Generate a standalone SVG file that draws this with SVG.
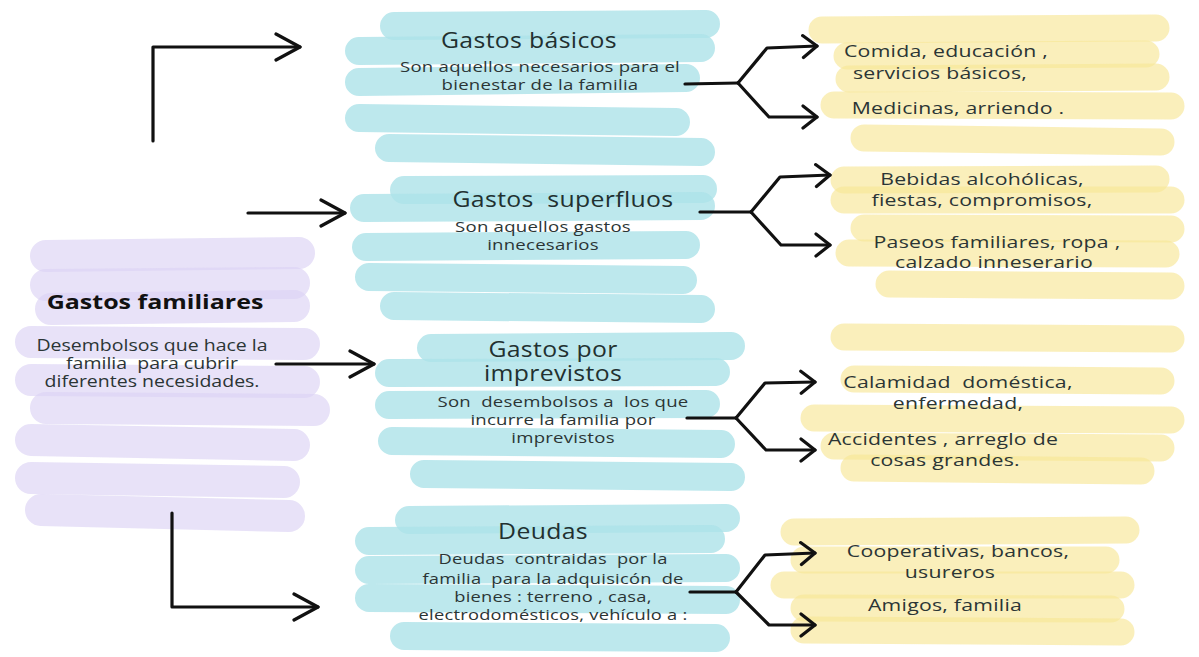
<svg xmlns="http://www.w3.org/2000/svg" width="1199" height="657" viewBox="0 0 1199 657">
<style>
.bg{fill:#ffffff}
.cy{stroke:#ade2e9;stroke-width:28;stroke-linecap:round;fill:none;opacity:0.8}
.pu{stroke:#dcd3f4;stroke-width:32;stroke-linecap:round;fill:none;opacity:0.65}
.ye{stroke:#f8e796;stroke-width:27;stroke-linecap:round;fill:none;opacity:0.65}
text{font-family:"Open Sans","DejaVu Sans",sans-serif;fill:#2b3535;text-anchor:middle;white-space:pre}
.t{font-size:21px;letter-spacing:0.3px;fill:#223030}
.tb{font-size:20px;font-weight:bold;fill:#111}
.d{font-size:15px;letter-spacing:0.2px}
.dp{font-size:16px}
.y{font-size:17px;letter-spacing:0.2px}
.c{stroke:#111;stroke-width:3.2;fill:none;stroke-linecap:round;stroke-linejoin:round}
</style>
<defs>
<marker id="big" viewBox="0 0 28 30" refX="26" refY="15" markerWidth="28" markerHeight="30" markerUnits="userSpaceOnUse" orient="auto">
<path d="M2,2 L26,15 L2,28" fill="none" stroke="#111" stroke-width="3.2" stroke-linecap="round" stroke-linejoin="round"/>
</marker>
<marker id="sm" viewBox="0 0 18 26" refX="16" refY="13" markerWidth="18" markerHeight="26" markerUnits="userSpaceOnUse" orient="auto">
<path d="M2,2 L16,13 L2,24" fill="none" stroke="#111" stroke-width="3.2" stroke-linecap="round" stroke-linejoin="round"/>
</marker>
</defs>
<rect class="bg" x="0" y="0" width="1199" height="657"/>

<g id="node-familiares">
<line class="pu" x1="46" y1="256" x2="299" y2="253"/>
<line class="pu" x1="46" y1="285" x2="294" y2="283"/>
<line class="pu" x1="51" y1="309" x2="294" y2="306"/>
<line class="pu" x1="31" y1="342" x2="304" y2="344"/>
<line class="pu" x1="31" y1="380" x2="304" y2="382"/>
<line class="pu" x1="46" y1="408" x2="314" y2="410"/>
<line class="pu" x1="31" y1="440" x2="294" y2="445"/>
<line class="pu" x1="31" y1="478" x2="284" y2="482"/>
<line class="pu" x1="41" y1="510" x2="289" y2="516"/>
<text class="tb" transform="translate(155,309) scale(1.25,1)">Gastos familiares</text>
<text class="dp" transform="translate(152,0) scale(1.22,1)"><tspan x="0" y="351">Desembolsos que hace la</tspan><tspan x="0" y="369">familia  para cubrir</tspan><tspan x="0" y="387">diferentes necesidades.</tspan></text>
</g>

<g id="node-basicos">
<line class="cy" x1="394" y1="26" x2="706" y2="24"/>
<line class="cy" x1="359" y1="51" x2="701" y2="48"/>
<line class="cy" x1="359" y1="82" x2="686" y2="78"/>
<line class="cy" x1="359" y1="118" x2="676" y2="122"/>
<line class="cy" x1="389" y1="148" x2="701" y2="152"/>
<text class="t" transform="translate(529,48) scale(1.18,1)">Gastos básicos</text>
<text class="d" transform="translate(540,0) scale(1.24,1)"><tspan x="0" y="72">Son aquellos necesarios para el</tspan><tspan x="0" y="90">bienestar de la familia</tspan></text>
</g>

<g id="node-superfluos">
<line class="cy" x1="404" y1="190" x2="703" y2="189"/>
<line class="cy" x1="364" y1="208" x2="701" y2="206"/>
<line class="cy" x1="366" y1="247" x2="686" y2="245"/>
<line class="cy" x1="369" y1="277" x2="683" y2="280"/>
<line class="cy" x1="394" y1="306" x2="701" y2="309"/>
<text class="t" transform="translate(563,207) scale(1.18,1)">Gastos  superfluos</text>
<text class="d" transform="translate(543,0) scale(1.24,1)"><tspan x="0" y="232">Son aquellos gastos</tspan><tspan x="0" y="250">innecesarios</tspan></text>
</g>

<g id="node-imprevistos">
<line class="cy" x1="431" y1="348" x2="731" y2="346"/>
<line class="cy" x1="389" y1="373" x2="716" y2="372"/>
<line class="cy" x1="389" y1="405" x2="706" y2="404"/>
<line class="cy" x1="392" y1="441" x2="721" y2="444"/>
<line class="cy" x1="424" y1="474" x2="731" y2="477"/>
<text class="t" transform="translate(553,0) scale(1.18,1)"><tspan x="0" y="357">Gastos por</tspan><tspan x="0" y="381">imprevistos</tspan></text>
<text class="d" transform="translate(563,0) scale(1.24,1)"><tspan x="0" y="407">Son  desembolsos a  los que</tspan><tspan x="0" y="425">incurre la familia por</tspan><tspan x="0" y="443">imprevistos</tspan></text>
</g>

<g id="node-deudas">
<line class="cy" x1="409" y1="520" x2="726" y2="518"/>
<line class="cy" x1="369" y1="541" x2="711" y2="539"/>
<line class="cy" x1="369" y1="570" x2="726" y2="568"/>
<line class="cy" x1="369" y1="598" x2="726" y2="600"/>
<line class="cy" x1="404" y1="636" x2="716" y2="638"/>
<text class="t" transform="translate(543,539) scale(1.18,1)">Deudas</text>
<text class="d" transform="translate(553,0) scale(1.22,1)"><tspan x="0" y="564">Deudas  contraidas  por la</tspan><tspan x="0" y="584">familia  para la adquisicón  de</tspan><tspan x="0" y="602">bienes : terreno , casa,</tspan><tspan x="0" y="620">electrodomésticos, vehículo a :</tspan></text>
</g>

<g id="node-y1">
<line class="ye" x1="822" y1="30" x2="1156" y2="28"/>
<line class="ye" x1="847" y1="56" x2="1146" y2="54"/>
<line class="ye" x1="849" y1="79" x2="1156" y2="77"/>
<line class="ye" x1="834" y1="105" x2="1171" y2="106"/>
<line class="ye" x1="864" y1="138" x2="1161" y2="142"/>
<text class="y" transform="translate(946,0) scale(1.25,1)"><tspan x="0" y="57">Comida, educación ,</tspan><tspan x="-4.8" y="79">servicios básicos,</tspan></text>
<text class="y" transform="translate(958,114) scale(1.25,1)">Medicinas, arriendo .</text>
</g>

<g id="node-y2">
<line class="ye" x1="844" y1="180" x2="1156" y2="179"/>
<line class="ye" x1="844" y1="200" x2="1171" y2="200"/>
<line class="ye" x1="864" y1="228" x2="1171" y2="229"/>
<line class="ye" x1="849" y1="253" x2="1166" y2="254"/>
<line class="ye" x1="889" y1="284" x2="1171" y2="286"/>
<text class="y" transform="translate(982,0) scale(1.25,1)"><tspan x="0" y="185">Bebidas alcohólicas,</tspan><tspan x="0" y="206">fiestas, compromisos,</tspan></text>
<text class="y" transform="translate(997,0) scale(1.25,1)"><tspan x="0" y="248">Paseos familiares, ropa ,</tspan><tspan x="-2.4" y="268">calzado inneserario</tspan></text>
</g>

<g id="node-y3">
<line class="ye" x1="844" y1="337" x2="1171" y2="339"/>
<line class="ye" x1="854" y1="379" x2="1161" y2="381"/>
<line class="ye" x1="814" y1="418" x2="1171" y2="420"/>
<line class="ye" x1="834" y1="446" x2="1161" y2="448"/>
<line class="ye" x1="854" y1="468" x2="1141" y2="471"/>
<text class="y" transform="translate(958,0) scale(1.25,1)"><tspan x="0" y="388">Calamidad  doméstica,</tspan><tspan x="0" y="409">enfermedad,</tspan></text>
<text class="y" transform="translate(943,0) scale(1.25,1)"><tspan x="0" y="445">Accidentes , arreglo de</tspan><tspan x="1.6" y="466">cosas grandes.</tspan></text>
</g>

<g id="node-y4">
<line class="ye" x1="794" y1="532" x2="1126" y2="530"/>
<line class="ye" x1="804" y1="560" x2="1106" y2="560"/>
<line class="ye" x1="784" y1="585" x2="1121" y2="585"/>
<line class="ye" x1="804" y1="608" x2="1111" y2="609"/>
<line class="ye" x1="804" y1="630" x2="1121" y2="632"/>
<text class="y" transform="translate(958,0) scale(1.25,1)"><tspan x="0" y="557">Cooperativas, bancos,</tspan><tspan x="-6.4" y="578">usureros</tspan></text>
<text class="y" transform="translate(945,611) scale(1.25,1)">Amigos, familia</text>
</g>

<g id="connectors">
<path class="c" d="M153,141 L153,47 L300,47" marker-end="url(#big)"/>
<path class="c" d="M248,213 L345,213" marker-end="url(#big)"/>
<path class="c" d="M276,364 L374,364" marker-end="url(#big)"/>
<path class="c" d="M172,513 L172,607 L318,607" marker-end="url(#big)"/>

<path class="c" d="M685,84 L738,83"/>
<path class="c" d="M738,83 L767,48 L817,46" marker-end="url(#sm)"/>
<path class="c" d="M738,83 L769,117 L817,117" marker-end="url(#sm)"/>

<path class="c" d="M700,212 L751,212"/>
<path class="c" d="M751,212 L780,177 L830,175" marker-end="url(#sm)"/>
<path class="c" d="M751,212 L781,245 L830,245" marker-end="url(#sm)"/>

<path class="c" d="M687,418 L736,418"/>
<path class="c" d="M736,418 L765,383 L815,382" marker-end="url(#sm)"/>
<path class="c" d="M736,418 L766,450 L815,450" marker-end="url(#sm)"/>

<path class="c" d="M690,592 L736,592"/>
<path class="c" d="M736,592 L765,555 L815,553" marker-end="url(#sm)"/>
<path class="c" d="M736,592 L769,625 L815,625" marker-end="url(#sm)"/>
</g>
</svg>
